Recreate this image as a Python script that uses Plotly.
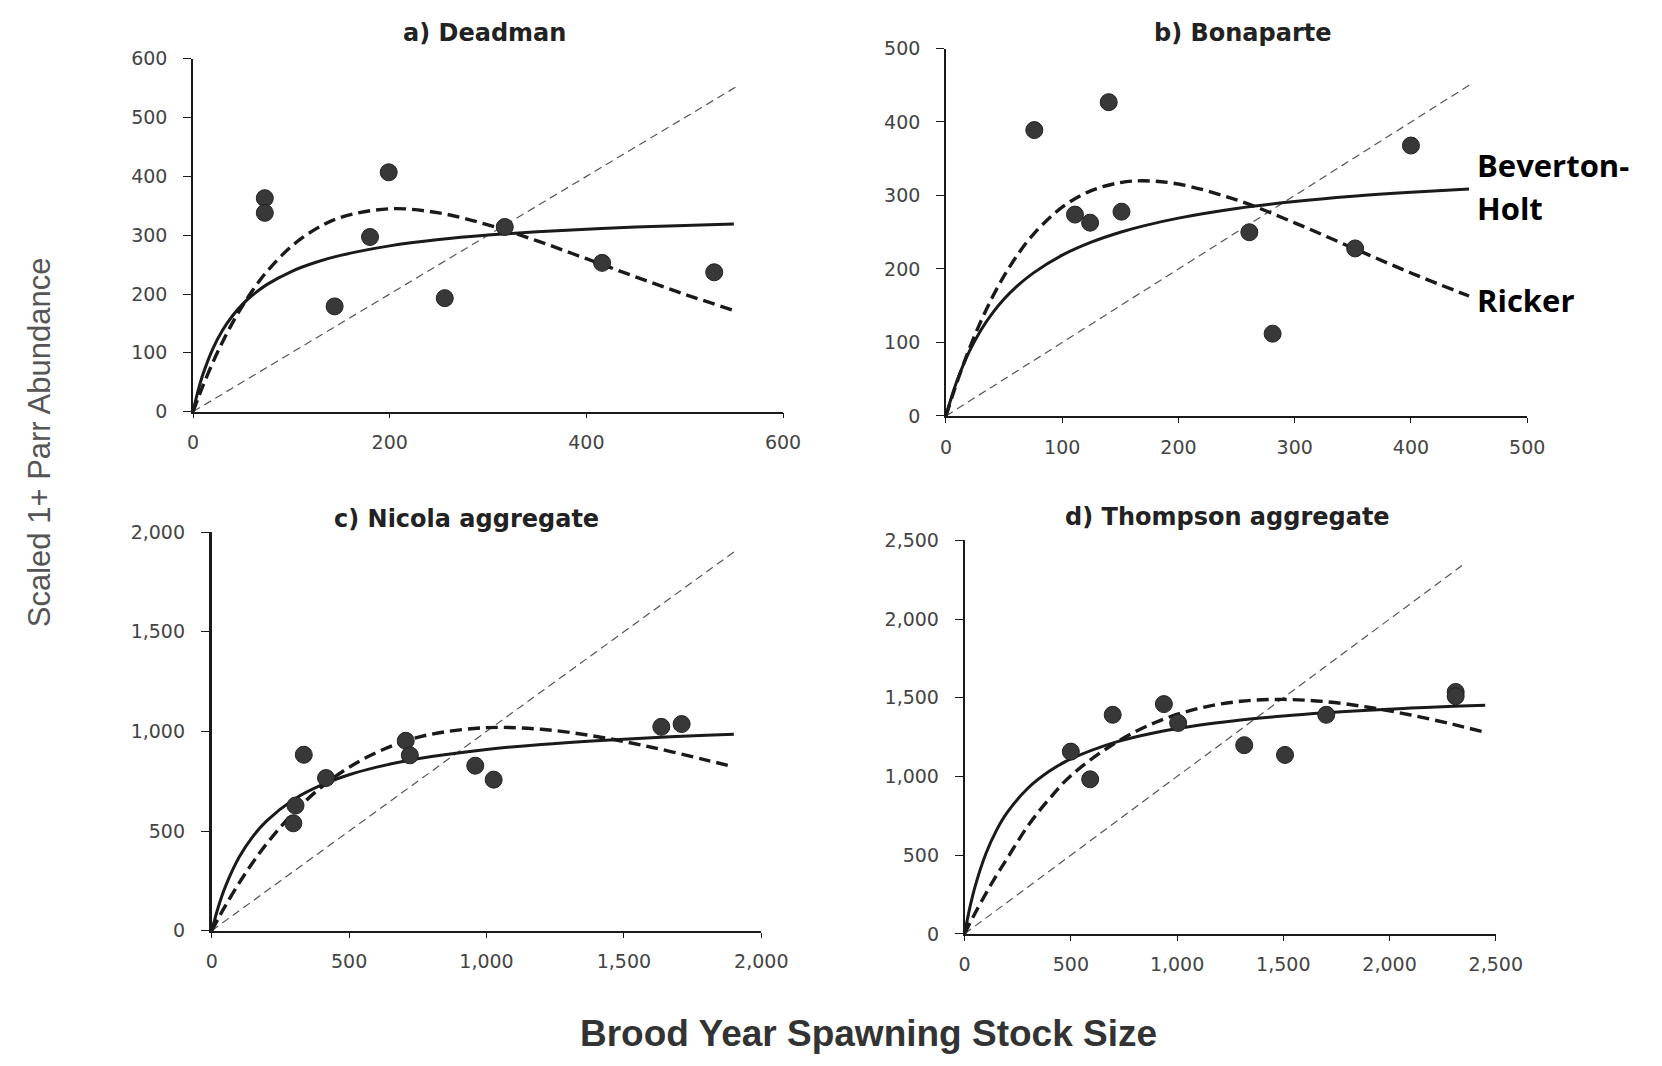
import plotly.graph_objects as go

# ---------------- data ----------------
# a) Deadman
a_stock = [73, 73, 199, 180, 144, 256, 317, 416, 530]
a_parr = [363, 338, 407, 297, 179, 193, 314, 253, 237]
a_curve_s = [0, 5, 10, 20, 30, 40, 50, 60, 75, 100, 125, 150, 200, 250, 300, 350, 400, 450, 500, 550]
a_bh = [0, 34.6, 63, 106.5, 138.4, 162.7, 182, 197.5, 216, 238.3, 254, 265.7, 281.9, 292.6, 300.2, 305.9, 310.3, 313.8, 316.6, 319]
a_ricker = [0, 22.3, 43.6, 83, 118.6, 150.6, 179.2, 204.9, 238, 280.9, 310.8, 330.2, 345, 337.9, 317.6, 290.4, 260.1, 229.3, 199.6, 172.1]
a_repl = [0, 555]

# b) Bonaparte
b_stock = [76, 140, 111, 124, 151, 261, 281, 352, 400]
b_parr = [389, 427, 274, 263, 278, 250, 112, 228, 368]
b_curve_s = [0, 5, 10, 20, 30, 40, 50, 60, 75, 100, 125, 150, 170, 200, 250, 300, 350, 400, 450]
b_bh = [0, 26.9, 50, 87.5, 116.7, 140, 159.1, 175, 194.4, 218.8, 236.5, 250, 258.7, 269.2, 282.3, 291.7, 298.8, 304.3, 308.8]
b_ricker = [0, 24.8, 48.2, 91, 128.7, 161.8, 190.6, 215.7, 246.9, 284.2, 306.6, 317.6, 320, 315.6, 294, 262.8, 228.5, 194.6, 163.2]
b_repl = [0, 450]

# c) Nicola aggregate
c_stock = [335, 297, 305, 416, 706, 721, 959, 1026, 1636, 1710]
c_parr = [883, 539, 628, 766, 953, 880, 828, 758, 1023, 1037]
c_curve_s = [0, 25, 50, 100, 150, 200, 300, 400, 500, 600, 700, 800, 1000, 1200, 1400, 1600, 1800, 1900]
c_bh = [0, 124, 222.5, 369.4, 473.5, 551.3, 659.5, 731.3, 782.4, 820.7, 850.3, 874, 909.5, 934.9, 953.8, 968.6, 980.3, 985.4]
c_ricker = [0, 64.5, 125.9, 240.1, 343.4, 436.6, 595.4, 721.7, 820.2, 894.8, 949.1, 986.2, 1018.9, 1010.6, 974.6, 920.7, 856.2, 821.9]
c_repl = [0, 1900]

# d) Thompson aggregate
d_stock = [500, 591, 697, 938, 1005, 1316, 1508, 1702, 2311, 2311]
d_parr = [1158, 982, 1392, 1460, 1340, 1199, 1137, 1392, 1537, 1510]
d_curve_s = [0, 25, 50, 100, 150, 200, 300, 400, 500, 700, 900, 1100, 1300, 1500, 1700, 1900, 2100, 2300, 2450]
d_bh = [0, 167.9, 303.5, 509, 657.5, 769.8, 928.2, 1034.8, 1111.3, 1213.8, 1279.5, 1325, 1358.5, 1384.2, 1404.5, 1421, 1434.5, 1446, 1453.4]
d_ricker = [0, 67.3, 132.3, 255.8, 370.9, 478.2, 690, 860, 1005, 1205, 1345, 1432, 1478, 1489.8, 1475.3, 1440.3, 1390.8, 1330.8, 1280.6]
d_repl = [0, 2350]

titles = ["a) Deadman", "b) Bonaparte", "c) Nicola aggregate", "d) Thompson aggregate"]
x_ticks = [[0, 200, 400, 600], [0, 100, 200, 300, 400, 500],
           [0, 500, 1000, 1500, 2000], [0, 500, 1000, 1500, 2000, 2500]]
y_ticks = [[0, 100, 200, 300, 400, 500, 600], [0, 100, 200, 300, 400, 500],
           [0, 500, 1000, 1500, 2000], [0, 500, 1000, 1500, 2000, 2500]]

# ---------------- layout geometry (pixels) ----------------
W, H = 1662, 1066
panels = [
    dict(x0=190.8, x1=792.8, y0=48.8, y1=409.1),
    dict(x0=959.0, x1=1552.0, y0=38.3, y1=413.5),
    dict(x0=209.9, x1=770.6, y0=532.1, y1=939.1),
    dict(x0=978.0, x1=1520.0, y0=540.6, y1=942.3),
]
title_pos = [(488, 22), (1262, 22), (470, 519), (1246, 517)]

datasets = [
    (a_stock, a_parr, a_curve_s, a_bh, a_ricker, a_repl),
    (b_stock, b_parr, b_curve_s, b_bh, b_ricker, b_repl),
    (c_stock, c_parr, c_curve_s, c_bh, c_ricker, c_repl),
    (d_stock, d_parr, d_curve_s, d_bh, d_ricker, d_repl),
]

fig = go.Figure()
tick_font = dict(family="DejaVu Sans, Verdana, sans-serif", size=19, color="#444444")
layout_axes = {}
annotations = []

for i, (st, pr, cs, bh, rk, rp) in enumerate(datasets):
    n = "" if i == 0 else str(i + 1)
    xa, ya = "x" + n, "y" + n
    p = panels[i]
    # 1:1 replacement line
    fig.add_trace(go.Scatter(x=rp, y=rp, xaxis=xa, yaxis=ya, mode="lines",
                             line=dict(color="#555555", width=1.2, dash="8px,5px"),
                             showlegend=False, hoverinfo="skip"))
    # Beverton-Holt
    fig.add_trace(go.Scatter(x=cs, y=bh, xaxis=xa, yaxis=ya, mode="lines",
                             line=dict(color="#1a1a1a", width=3, shape="spline"),
                             showlegend=False))
    # Ricker
    fig.add_trace(go.Scatter(x=cs, y=rk, xaxis=xa, yaxis=ya, mode="lines",
                             line=dict(color="#1a1a1a", width=3.4, dash="12px,6px", shape="spline"),
                             showlegend=False))
    # observations
    fig.add_trace(go.Scatter(x=st, y=pr, xaxis=xa, yaxis=ya, mode="markers",
                             marker=dict(color="#383838", size=17,
                                         line=dict(color="#222222", width=1)),
                             showlegend=False))
    xr = x_ticks[i][-1]
    yr = y_ticks[i][-1]
    common = dict(showline=True, linecolor="#1a1a1a", linewidth=1.6,
                  ticks="outside", tickwidth=1.3, tickcolor="#1a1a1a",
                  showgrid=False, zeroline=False, tickfont=tick_font,
                  tickformat=",d", fixedrange=True)
    layout_axes["xaxis" + n] = dict(
        domain=[p["x0"] / W, p["x1"] / W], anchor=ya, range=[0, xr],
        tickvals=x_ticks[i], ticklen=5, ticklabelstandoff=8, **common)
    ycommon = dict(common)
    if i == 2:
        ycommon["linewidth"] = 2.8
    layout_axes["yaxis" + n] = dict(
        domain=[1 - p["y1"] / H, 1 - p["y0"] / H], anchor=xa, range=[0, yr],
        tickvals=y_ticks[i], ticklen=8, ticklabelstandoff=12, **ycommon)
    tx, ty = title_pos[i]
    annotations.append(dict(text="<b>" + titles[i] + "</b>", x=tx / W, y=1 - ty / H,
                            xref="paper", yref="paper", showarrow=False,
                            xanchor="center", yanchor="middle",
                            font=dict(family="DejaVu Sans, Verdana, sans-serif",
                                      size=24, color="#222222")))

annotations.append(dict(text="Scaled 1+ Parr Abundance", x=35 / W, y=1 - 440 / H,
                        xref="paper", yref="paper", showarrow=False, textangle=-90,
                        xanchor="center", yanchor="middle",
                        font=dict(family="Liberation Sans, Arial, sans-serif",
                                  size=31, color="#555555")))
annotations.append(dict(text="<b>Brood Year Spawning Stock Size</b>", x=880 / W, y=1 - 1044 / H,
                        xref="paper", yref="paper", showarrow=False,
                        xanchor="center", yanchor="middle",
                        font=dict(family="Liberation Sans, Arial, sans-serif",
                                  size=37, color="#333333")))
label_font = dict(family="Open Sans, Lato, sans-serif", size=31, color="#000000")
for txt, yy in [("<b>Beverton-</b>", 157), ("<b>Holt</b>", 201), ("<b>Ricker</b>", 295)]:
    annotations.append(dict(text=txt, x=1499 / W, y=1 - yy / H,
                            xref="paper", yref="paper", showarrow=False, align="left",
                            xanchor="left", yanchor="middle", font=label_font))

fig.update_layout(width=W, height=H, margin=dict(l=0, r=0, t=0, b=0),
                  paper_bgcolor="white", plot_bgcolor="white",
                  annotations=annotations, **layout_axes)

fig.write_html("out.html")
